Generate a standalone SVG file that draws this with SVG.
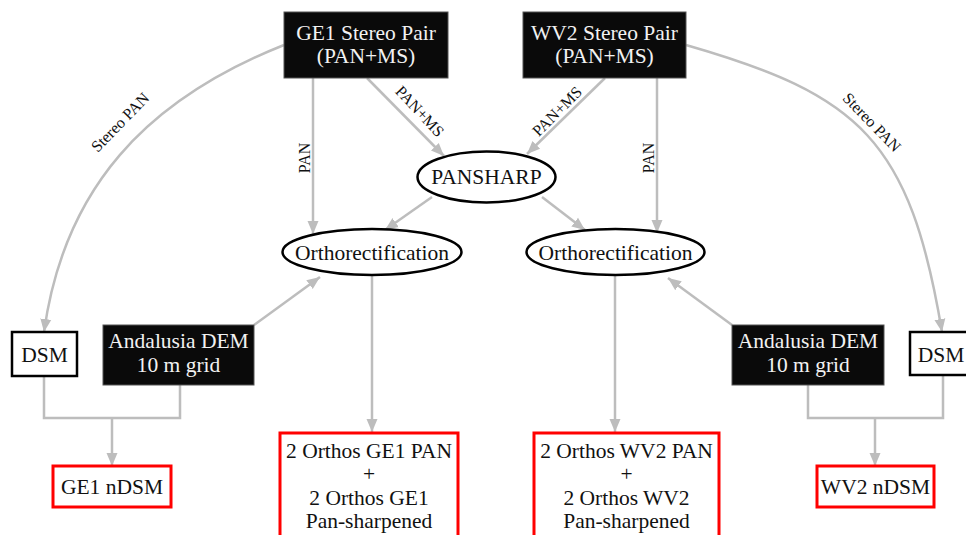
<svg xmlns="http://www.w3.org/2000/svg" width="966" height="535" viewBox="0 0 966 535">
<defs>
<style>
.t{font-family:"Liberation Serif","Times New Roman",serif;font-size:21.5px;text-anchor:middle;fill:#111}
.tw{fill:#f2f2f2}
.lbl{font-family:"Liberation Serif","Times New Roman",serif;font-size:16px;text-anchor:middle;fill:#111}
.blk{fill:#0a0a0a;stroke:#555;stroke-width:1}
.wht{fill:#fff;stroke:#000;stroke-width:2.5}
.red{fill:#fff;stroke:#f00;stroke-width:3}
.ell{fill:#fff;stroke:#000;stroke-width:2.5}
.c{fill:none;stroke:#bdbdbd;stroke-width:2.5}
.ca{fill:none;stroke:#bdbdbd;stroke-width:2.5;marker-end:url(#ah)}
</style>
<marker id="ah" markerUnits="userSpaceOnUse" markerWidth="14" markerHeight="14" viewBox="0 0 14 14" refX="13" refY="7" orient="auto">
<path d="M0,1.5 L13,7 L0,12.5 Z" fill="#bdbdbd"/>
</marker>
</defs>
<rect width="966" height="535" fill="#fff"/>
<g id="connectors">
<path class="ca" d="M284,45 C146,100 64,188 44,332"/>
<path class="ca" d="M686,45 C860,95 910,140 942,332"/>
<path class="ca" d="M313,78 L313,234"/>
<path class="ca" d="M367,78 L444,156"/>
<path class="ca" d="M432,197 L385,230"/>
<path class="ca" d="M605,78 L527,154"/>
<path class="ca" d="M657,78 L657,233"/>
<path class="ca" d="M542,197 L585,230"/>
<path class="ca" d="M254,325 L320,277"/>
<path class="ca" d="M732,325 L668,278"/>
<path class="ca" d="M372,275 L372,432"/>
<path class="ca" d="M615,275 L615,432"/>
<path class="c" d="M44,376 L44,418 L180,418 L180,385"/>
<path class="ca" d="M112,418 L112,466"/>
<path class="c" d="M808,385 L808,418 L943,418 L943,374"/>
<path class="ca" d="M875,418 L875,466"/>
<text class="lbl" transform="translate(124,126) rotate(-46)">Stereo PAN</text>
<text class="lbl" transform="translate(868,126) rotate(46)">Stereo PAN</text>
<text class="lbl" transform="translate(309.5,158) rotate(-90)">PAN</text>
<text class="lbl" transform="translate(653.5,158) rotate(-90)">PAN</text>
<text class="lbl" transform="translate(416,115) rotate(47)">PAN+MS</text>
<text class="lbl" transform="translate(561,115) rotate(-45)">PAN+MS</text>
</g>
<g id="ge1">
<rect class="blk" x="284" y="12" width="164" height="66"/>
<text class="t tw" x="366" y="39.5">GE1 Stereo Pair</text>
<text class="t tw" x="366" y="62.5">(PAN+MS)</text>
</g>
<g id="wv2">
<rect class="blk" x="523" y="12" width="163" height="66"/>
<text class="t tw" x="604.5" y="39.5">WV2 Stereo Pair</text>
<text class="t tw" x="604.5" y="62.5">(PAN+MS)</text>
</g>
<g id="pansharp">
<ellipse class="ell" cx="486.5" cy="177" rx="69" ry="25.5"/>
<text class="t" x="486.5" y="184">PANSHARP</text>
</g>
<g id="ortho-left">
<ellipse class="ell" cx="372" cy="252" rx="89.5" ry="23"/>
<text class="t" x="372" y="259.5">Orthorectification</text>
</g>
<g id="ortho-right">
<ellipse class="ell" cx="615.5" cy="252" rx="89" ry="23"/>
<text class="t" x="615.5" y="259.5">Orthorectification</text>
</g>
<g id="dsm-left">
<rect class="wht" x="12" y="332" width="65" height="44"/>
<text class="t" x="44.5" y="361.5">DSM</text>
</g>
<g id="dem-left">
<rect class="blk" x="103" y="325" width="151" height="60"/>
<text class="t tw" x="178.5" y="348">Andalusia DEM</text>
<text class="t tw" x="178.5" y="371.5">10 m grid</text>
</g>
<g id="dem-right">
<rect class="blk" x="732" y="325" width="152" height="60"/>
<text class="t tw" x="808" y="348">Andalusia DEM</text>
<text class="t tw" x="808" y="371.5">10 m grid</text>
</g>
<g id="dsm-right">
<rect class="wht" x="910" y="332" width="65" height="43"/>
<text class="t" x="941" y="361.5">DSM</text>
</g>
<g id="ge1-ndsm">
<rect class="red" x="53" y="466" width="118" height="41"/>
<text class="t" x="112" y="494">GE1 nDSM</text>
</g>
<g id="wv2-ndsm">
<rect class="red" x="817" y="466" width="117" height="41"/>
<text class="t" x="875.5" y="494">WV2 nDSM</text>
</g>
<g id="out-left">
<rect class="red" x="280" y="433" width="178" height="115"/>
<text class="t" x="369" y="458">2 Orthos GE1 PAN</text>
<text class="t" x="369" y="481">+</text>
<text class="t" x="369" y="505">2 Orthos GE1</text>
<text class="t" x="369" y="528">Pan-sharpened</text>
</g>
<g id="out-right">
<rect class="red" x="534" y="433" width="185" height="115"/>
<text class="t" x="626.5" y="458">2 Orthos WV2 PAN</text>
<text class="t" x="626.5" y="481">+</text>
<text class="t" x="626.5" y="505">2 Orthos WV2</text>
<text class="t" x="626.5" y="528">Pan-sharpened</text>
</g>
</svg>
